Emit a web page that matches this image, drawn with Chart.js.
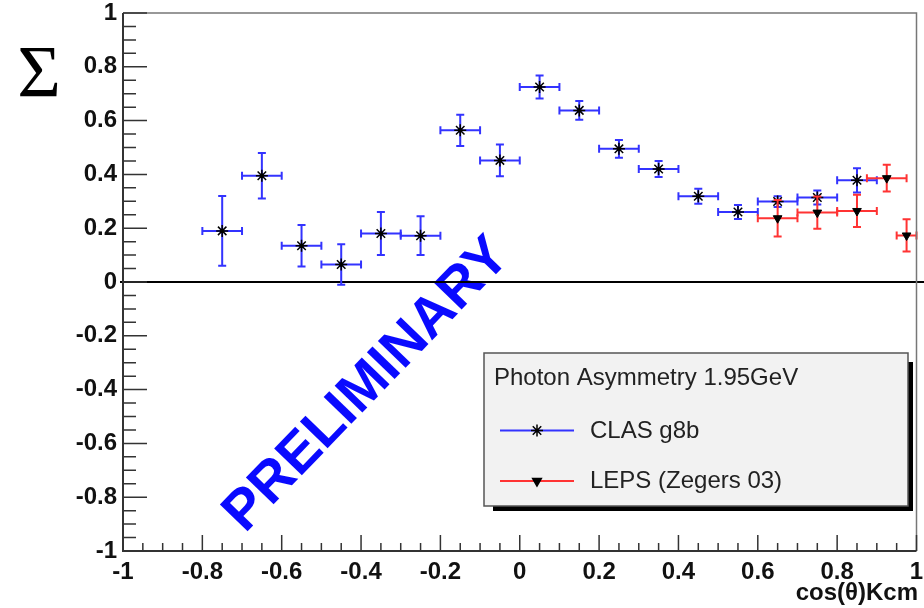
<!DOCTYPE html>
<html>
<head>
<meta charset="utf-8">
<script src="https://cdn.jsdelivr.net/npm/chart.js@4"></script>
<style>
  html, body { margin: 0; padding: 0; background: #fff; }
  canvas { display: block; }
</style>
</head>
<body>
<canvas id="sigmacanvas" width="924" height="608"></canvas>
<script>
// CLAS g8b (blue)
const clasX = [-0.75, -0.65, -0.55, -0.45, -0.35, -0.25, -0.15, -0.05, 0.05, 0.15, 0.25, 0.35, 0.45, 0.55, 0.65, 0.75, 0.85];
const clasY = [0.19, 0.395, 0.135, 0.065, 0.18, 0.172, 0.564, 0.452, 0.725, 0.638, 0.495, 0.42, 0.319, 0.26, 0.299, 0.314, 0.378];
const clasYErr = [0.13, 0.085, 0.077, 0.075, 0.08, 0.072, 0.058, 0.059, 0.043, 0.035, 0.033, 0.03, 0.028, 0.026, 0.02, 0.026, 0.045];
const clasXErr = [0.05, 0.05, 0.05, 0.05, 0.05, 0.05, 0.05, 0.05, 0.05, 0.05, 0.05, 0.05, 0.05, 0.05, 0.05, 0.05, 0.05];

// LEPS (Zegers 03) (red)
const lepsX = [0.65, 0.75, 0.85, 0.925, 0.975];
const lepsY = [0.237, 0.258, 0.264, 0.386, 0.173];
const lepsYErr = [0.068, 0.06, 0.06, 0.05, 0.06];
const lepsXErr = [0.05, 0.05, 0.05, 0.05, 0.025];

// axes
const xTickValues = [-1, -0.8, -0.6, -0.4, -0.2, 0, 0.2, 0.4, 0.6, 0.8, 1];
const xTickLabels = ['-1', '-0.8', '-0.6', '-0.4', '-0.2', '0', '0.2', '0.4', '0.6', '0.8', '1'];
const yTickValues = [-1, -0.8, -0.6, -0.4, -0.2, 0, 0.2, 0.4, 0.6, 0.8, 1];
const yTickLabels = ['-1', '-0.8', '-0.6', '-0.4', '-0.2', '0', '0.2', '0.4', '0.6', '0.8', '1'];

const xTitle = 'cos(\u03B8)Kcm';
const yTitle = '\u03A3';
const legendTitle = 'Photon Asymmetry 1.95GeV';
const stamp = 'PRELIMINARY';

const toPoints = (xs, ys, exs, eys) => xs.map((x, i) => ({ x: x, y: ys[i], ex: exs[i], ey: eys[i] }));

// error bars + ROOT style frame, ticks, legend
const rootStyle = {
  id: 'rootStyle',
  beforeDatasetsDraw(chart) {
    const ctx = chart.ctx;
    const ys = chart.scales.y;
    // preliminary stamp
    ctx.save();
    ctx.translate(364, 382);
    ctx.rotate(-46 * Math.PI / 180);
    ctx.font = 'bold 56px "Liberation Sans", Arial, sans-serif';
    ctx.fillStyle = '#0a0aff';
    const w = ctx.measureText(stamp).width;
    ctx.fillText(stamp, -w / 2, 20);
    ctx.restore();
    // zero line
    ctx.save();
    ctx.strokeStyle = '#000';
    ctx.lineWidth = 2;
    ctx.beginPath();
    const y0 = ys.getPixelForValue(0);
    ctx.moveTo(chart.chartArea.left - 3, y0);
    ctx.lineTo(chart.width, y0);
    ctx.stroke();
    ctx.restore();
  },
  beforeDatasetDraw(chart, args) {
    const ds = chart.data.datasets[args.index];
    const ctx = chart.ctx;
    const xs = chart.scales.x, ys = chart.scales.y;
    const right = chart.chartArea.right;
    ctx.save();
    ctx.strokeStyle = ds.errColor;
    ctx.lineWidth = 2;
    ds.data.forEach(p => {
      const px = xs.getPixelForValue(p.x), py = ys.getPixelForValue(p.y);
      const xa = xs.getPixelForValue(p.x - p.ex), xb = Math.min(xs.getPixelForValue(p.x + p.ex), right);
      const ya = ys.getPixelForValue(p.y + p.ey), yb = ys.getPixelForValue(p.y - p.ey);
      ctx.beginPath();
      ctx.moveTo(xa, py); ctx.lineTo(xb, py);
      ctx.moveTo(px, ya); ctx.lineTo(px, yb);
      // caps
      ctx.moveTo(xa, py - 4); ctx.lineTo(xa, py + 4);
      ctx.moveTo(xb, py - 4); ctx.lineTo(xb, py + 4);
      ctx.moveTo(px - 4, ya); ctx.lineTo(px + 4, ya);
      ctx.moveTo(px - 4, yb); ctx.lineTo(px + 4, yb);
      ctx.stroke();
    });
    ctx.restore();
  },
  afterDatasetDraw(chart, args) {
    const ds = chart.data.datasets[args.index];
    if (ds.pointStyle !== 'star') return;
    const ctx = chart.ctx;
    ctx.save();
    ctx.fillStyle = '#000';
    args.meta.data.forEach(el => {
      ctx.beginPath();
      ctx.arc(el.x, el.y, 2.2, 0, Math.PI * 2);
      ctx.fill();
    });
    ctx.restore();
  },
  afterDraw(chart) {
    const ctx = chart.ctx;
    const a = chart.chartArea;
    const xs = chart.scales.x, ys = chart.scales.y;
    ctx.save();
    // frame
    ctx.strokeStyle = '#777';
    ctx.lineWidth = 1.5;
    ctx.beginPath();
    ctx.moveTo(a.left, a.top); ctx.lineTo(a.right, a.top); ctx.lineTo(a.right, a.bottom);
    ctx.stroke();
    ctx.strokeStyle = '#333';
    ctx.lineWidth = 2;
    ctx.beginPath();
    ctx.moveTo(a.left, a.top); ctx.lineTo(a.left, a.bottom); ctx.lineTo(a.right, a.bottom);
    ctx.stroke();
    // ticks (major every 0.2, minor every 0.05)
    ctx.lineWidth = 1.5;
    ctx.beginPath();
    xTickValues.forEach((v, i) => {
      const px = xs.getPixelForValue(v);
      ctx.moveTo(px, a.bottom); ctx.lineTo(px, a.bottom - 16);
      if (i < xTickValues.length - 1) {
        for (let k = 1; k < 4; k++) {
          const mx = xs.getPixelForValue(v + k * 0.05);
          ctx.moveTo(mx, a.bottom); ctx.lineTo(mx, a.bottom - 8);
        }
      }
    });
    yTickValues.forEach((v, i) => {
      const py = ys.getPixelForValue(v);
      ctx.moveTo(a.left, py); ctx.lineTo(a.left + 24, py);
      if (i < yTickValues.length - 1) {
        for (let k = 1; k < 4; k++) {
          const my = ys.getPixelForValue(v + k * 0.05);
          ctx.moveTo(a.left, my); ctx.lineTo(a.left + 13, my);
        }
      }
    });
    ctx.stroke();

    // axis titles
    ctx.fillStyle = '#111';
    ctx.font = 'bold 24px "Liberation Sans", Arial, sans-serif';
    ctx.textAlign = 'right';
    ctx.textBaseline = 'alphabetic';
    ctx.fillText(xTitle, 918, 600);
    ctx.font = '75px "Liberation Serif", "Times New Roman", serif';
    ctx.textAlign = 'center';
    ctx.fillStyle = '#000';
    ctx.fillText(yTitle, 39, 97);

    // legend box with shadow
    const bx = 484, by = 353, bw = 424, bh = 153;
    ctx.fillStyle = '#000';
    ctx.fillRect(bx + bw, by + 9, 5, bh - 4);
    ctx.fillRect(bx + 9, by + bh, bw - 4, 5);
    ctx.fillStyle = '#f2f2f2';
    ctx.fillRect(bx, by, bw, bh);
    ctx.strokeStyle = '#555';
    ctx.lineWidth = 1.5;
    ctx.strokeRect(bx, by, bw, bh);
    ctx.fillStyle = '#222';
    ctx.textAlign = 'left';
    ctx.font = '24px "Liberation Sans", Arial, sans-serif';
    ctx.fillText(legendTitle, 494, 385);
    const rows = [430.5, 481];
    const bases = [437.5, 488];
    chart.data.datasets.forEach((ds, i) => {
      const ly = rows[i];
      ctx.strokeStyle = ds.errColor;
      ctx.lineWidth = 2;
      ctx.beginPath();
      ctx.moveTo(500, ly); ctx.lineTo(574, ly);
      ctx.stroke();
      ctx.strokeStyle = '#000';
      ctx.fillStyle = '#000';
      ctx.lineWidth = 1.5;
      Chart.helpers.drawPoint(ctx, { pointStyle: ds.pointStyle, rotation: ds.rotation || 0, radius: ds.pointRadius, borderWidth: 1.5 }, 537, ly);
      ctx.fillStyle = '#222';
      ctx.fillText(ds.label, 590, bases[i]);
    });
    ctx.restore();
  }
};

const canva = document.getElementById('sigmacanvas').getContext('2d');
new Chart(canva, {
  type: 'scatter',
  data: {
    datasets: [{
      label: 'CLAS g8b',
      data: toPoints(clasX, clasY, clasXErr, clasYErr),
      pointStyle: 'star',
      pointRadius: 6,
      borderColor: '#000',
      backgroundColor: '#000',
      borderWidth: 1.5,
      errColor: '#3333ff',
      order: 1
    }, {
      label: 'LEPS (Zegers 03)',
      data: toPoints(lepsX, lepsY, lepsXErr, lepsYErr),
      pointStyle: 'triangle',
      rotation: 180,
      pointRadius: 5,
      borderColor: '#000',
      backgroundColor: '#000',
      borderWidth: 1,
      errColor: '#ff3333',
      order: 0
    }]
  },
  options: {
    responsive: false,
    animation: false,
    devicePixelRatio: 1,
    layout: { padding: { top: 13, right: 5, left: 0, bottom: 0 } },
    plugins: { legend: { display: false }, tooltip: { enabled: false } },
    scales: {
      x: {
        type: 'linear',
        min: -1,
        max: 1,
        grid: { display: false, drawTicks: false },
        border: { display: false },
        afterBuildTicks: s => { s.ticks = xTickValues.map(v => ({ value: v })); },
        afterFit: s => { s.height = 57; s.paddingLeft = 0; s.paddingRight = 0; },
        ticks: {
          autoSkip: false,
          maxRotation: 0,
          padding: 7,
          color: '#111',
          font: { family: '"Liberation Sans", Arial, sans-serif', size: 24, weight: 'bold' },
          callback: (v, i) => xTickLabels[i]
        }
      },
      y: {
        type: 'linear',
        min: -1,
        max: 1,
        grid: { display: false, drawTicks: false },
        border: { display: false },
        afterBuildTicks: s => { s.ticks = yTickValues.map(v => ({ value: v })); },
        afterFit: s => { s.width = 123; s.paddingTop = 0; s.paddingBottom = 0; },
        ticks: {
          autoSkip: false,
          padding: 6,
          color: '#111',
          font: { family: '"Liberation Sans", Arial, sans-serif', size: 24, weight: 'bold' },
          callback: (v, i) => yTickLabels[i]
        }
      }
    }
  },
  plugins: [rootStyle]
});
</script>
</body>
</html>
